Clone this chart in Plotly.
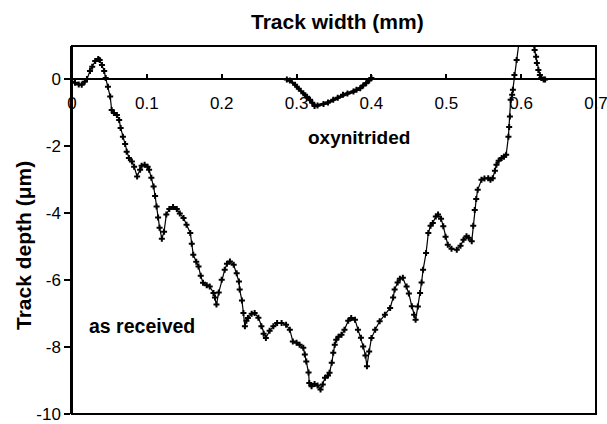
import plotly.graph_objects as go

# As received profile
as_received_x = [0.000, 0.004, 0.009, 0.013, 0.017, 0.020, 0.024, 0.027, 0.031, 0.035,
                 0.037, 0.040, 0.043, 0.045, 0.048, 0.051, 0.053, 0.056, 0.060, 0.063,
                 0.065, 0.068, 0.071, 0.073, 0.076, 0.080, 0.083, 0.087, 0.091, 0.093,
                 0.097, 0.101, 0.103, 0.106, 0.109, 0.111, 0.113, 0.115, 0.117, 0.120,
                 0.123, 0.126, 0.130, 0.135, 0.140, 0.144, 0.149, 0.153, 0.158, 0.160,
                 0.162, 0.166, 0.169, 0.172, 0.175, 0.180, 0.184, 0.189, 0.191, 0.193,
                 0.196, 0.200, 0.204, 0.207, 0.211, 0.216, 0.220, 0.223, 0.224, 0.227,
                 0.229, 0.231, 0.233, 0.235, 0.240, 0.244, 0.249, 0.253, 0.256, 0.259,
                 0.264, 0.269, 0.274, 0.280, 0.286, 0.291, 0.295, 0.300, 0.304, 0.309,
                 0.311, 0.313, 0.316, 0.317, 0.320, 0.324, 0.328, 0.332, 0.335, 0.338,
                 0.342, 0.344, 0.347, 0.349, 0.351, 0.353, 0.356, 0.360, 0.364, 0.369,
                 0.373, 0.378, 0.382, 0.386, 0.389, 0.392, 0.394, 0.397, 0.400, 0.405,
                 0.411, 0.418, 0.425, 0.429, 0.431, 0.435, 0.438, 0.442, 0.447, 0.450,
                 0.454, 0.457, 0.459, 0.462, 0.465, 0.467, 0.469, 0.473, 0.476, 0.479,
                 0.482, 0.486, 0.489, 0.493, 0.496, 0.499, 0.502, 0.507, 0.514, 0.519,
                 0.523, 0.527, 0.530, 0.534, 0.536, 0.538, 0.540, 0.542, 0.547, 0.551,
                 0.556, 0.559, 0.562, 0.565, 0.567, 0.570, 0.574, 0.577, 0.580, 0.583,
                 0.584, 0.585, 0.586, 0.588, 0.589, 0.591, 0.594, 0.597, 0.601, 0.606,
                 0.611, 0.616, 0.618, 0.620, 0.621, 0.623, 0.625, 0.627, 0.630, 0.632]
as_received_y = [-0.07, -0.10, -0.15, -0.16, -0.07, 0.01, 0.25, 0.38, 0.55, 0.61,
                 0.58, 0.43, 0.25, 0.04, -0.22, -0.51, -0.91, -1.00, -1.06, -1.21,
                 -1.45, -1.71, -1.93, -2.16, -2.35, -2.45, -2.61, -2.90, -2.70, -2.58,
                 -2.55, -2.61, -2.70, -2.94, -3.20, -3.48, -3.80, -4.13, -4.43, -4.76,
                 -4.55, -4.04, -3.87, -3.81, -3.87, -4.01, -4.14, -4.34, -4.59, -4.91,
                 -5.24, -5.45, -5.59, -5.87, -6.08, -6.15, -6.19, -6.38, -6.52, -6.73,
                 -6.37, -5.99, -5.69, -5.51, -5.44, -5.54, -5.79, -6.04, -6.28, -6.61,
                 -6.98, -7.38, -7.21, -7.13, -7.00, -6.98, -7.12, -7.38, -7.60, -7.73,
                 -7.51, -7.38, -7.28, -7.28, -7.33, -7.48, -7.83, -7.87, -7.93, -8.02,
                 -8.22, -8.43, -8.76, -9.07, -9.17, -9.10, -9.15, -9.27, -9.12, -8.92,
                 -8.85, -8.77, -8.47, -8.17, -7.93, -7.78, -7.69, -7.63, -7.48, -7.21,
                 -7.13, -7.18, -7.48, -7.72, -7.98, -8.25, -8.57, -8.13, -7.73, -7.48,
                 -7.23, -7.03, -6.83, -6.52, -6.28, -6.07, -5.96, -5.93, -6.19, -6.40,
                 -6.78, -7.03, -7.18, -6.79, -6.38, -6.07, -5.69, -5.19, -4.59, -4.37,
                 -4.29, -4.10, -4.04, -4.16, -4.39, -4.70, -4.94, -5.06, -5.09, -4.97,
                 -4.79, -4.69, -4.73, -4.84, -4.37, -3.90, -3.57, -3.30, -3.00, -2.96,
                 -2.95, -3.00, -2.95, -2.73, -2.55, -2.43, -2.35, -2.31, -2.25, -1.71,
                 -1.42, -1.11, -0.61, -0.46, -0.31, 0.13, 0.58, 1.08, 1.50, 1.60,
                 1.40, 1.08, 0.88, 0.68, 0.49, 0.28, 0.13, 0.04, 0.00, 0.00]

# Oxynitrided profile
oxy_x = [0.287, 0.291, 0.298, 0.303, 0.309, 0.314, 0.318, 0.321, 0.324, 0.328,
         0.336, 0.342, 0.349, 0.355, 0.362, 0.368, 0.376, 0.380, 0.385, 0.389,
         0.393, 0.397, 0.400]
oxy_y = [0.00, -0.03, -0.16, -0.28, -0.41, -0.52, -0.61, -0.70, -0.79, -0.78,
         -0.73, -0.69, -0.61, -0.55, -0.46, -0.42, -0.36, -0.31, -0.26, -0.18,
         -0.11, -0.03, 0.04]

x_ticks = [0, 0.1, 0.2, 0.3, 0.4, 0.5, 0.6, 0.7]
x_tick_labels = ["0", "0.1", "0.2", "0.3", "0.4", "0.5", "0.6", "0.7"]
y_ticks = [0, -2, -4, -6, -8, -10]
y_tick_labels = ["0", "-2", "-4", "-6", "-8", "-10"]

FONT = "Liberation Sans, Arial, sans-serif"
marker = dict(symbol="cross", size=5, color="black", line=dict(width=0))

fig = go.Figure()
fig.add_trace(go.Scatter(x=as_received_x, y=as_received_y, mode="lines+markers",
                         line=dict(color="black", width=1.2), marker=marker,
                         showlegend=False))
fig.add_trace(go.Scatter(x=oxy_x, y=oxy_y, mode="lines+markers",
                         line=dict(color="black", width=3), marker=marker,
                         showlegend=False))

fig.update_layout(
    width=607, height=424,
    margin=dict(l=72, r=11, t=46, b=10, autoexpand=False),
    paper_bgcolor="white", plot_bgcolor="white",
    font=dict(family=FONT, color="black"),
    xaxis=dict(range=[0, 0.7], anchor="free", position=10 / 11,
               showline=True, linecolor="black", linewidth=1.5,
               ticks="inside", ticklen=5, tickwidth=1.5, tickcolor="black",
               tickvals=x_ticks, ticktext=x_tick_labels,
               tickfont=dict(size=17, family=FONT), ticklabelstandoff=8,
               ticklabeloverflow="allow", automargin=False,
               showgrid=False, zeroline=False),
    yaxis=dict(range=[-10, 1], showline=True, linecolor="black", linewidth=1.5,
               ticks="outside", ticklen=6, tickwidth=1.5, tickcolor="black",
               tickvals=y_ticks, ticktext=y_tick_labels,
               tickfont=dict(size=17, family=FONT),
               ticklabeloverflow="allow", automargin=False,
               showgrid=False, zeroline=False),
    shapes=[dict(type="rect", xref="paper", yref="paper", x0=0, x1=1, y0=0, y1=1,
                 line=dict(color="black", width=2), layer="above")],
    annotations=[
        dict(text="<b>Track width (mm)</b>", xref="paper", yref="paper",
             x=(337 - 72) / 524, y=1 + (46 - 21) / 368, showarrow=False,
             xanchor="center", yanchor="middle", font=dict(size=21, family=FONT)),
        dict(text="<b>Track depth (μm)</b>", xref="paper", yref="paper",
             x=-(72 - 23) / 524, y=(414 - 246) / 368, showarrow=False, textangle=-90,
             xanchor="center", yanchor="middle", font=dict(size=21, family=FONT)),
        dict(text="<b>oxynitrided</b>", xref="x", yref="y", x=0.384, y=-1.72,
             showarrow=False, xanchor="center", yanchor="middle",
             font=dict(size=19, family=FONT)),
        dict(text="<b>as received</b>", xref="x", yref="y", x=0.094, y=-7.37,
             showarrow=False, xanchor="center", yanchor="middle",
             font=dict(size=19.5, family=FONT)),
    ],
)

fig.write_html("out.html")
